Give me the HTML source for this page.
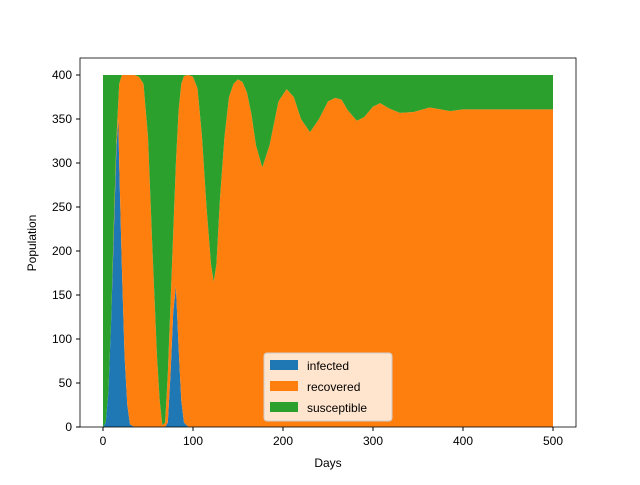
<!DOCTYPE html>
<html><head><meta charset="utf-8"><style>
body{margin:0;background:#fff;font-family:"Liberation Sans",sans-serif}
text{font-family:"Liberation Sans",sans-serif;font-size:12px;fill:#000}
</style></head><body>
<svg width="640" height="480">
<g id="plot"></g>
<rect x="80" y="58" width="496" height="369" fill="none" stroke="#000" stroke-width="0.8"/>
<g id="ticks"></g>
<text x="328" y="467" text-anchor="middle">Days</text>
<text transform="translate(36,243) rotate(-90)" text-anchor="middle">Population</text>
<g>
<rect x="264" y="353" width="128" height="68" rx="3" fill="#fff" fill-opacity="0.8" stroke="#ccc"/>
<g><rect x="270" y="360" width="28" height="10" fill="#1f77b4"/><text x="307" y="370">infected</text></g>
<g><rect x="270" y="381" width="28" height="10" fill="#ff7f0e"/><text x="307" y="391">recovered</text></g>
<g><rect x="270" y="402" width="28" height="10" fill="#2ca02c"/><text x="307" y="412">susceptible</text></g>
</g>
</svg>
<script>
const days=[0,3,6,9,12,15,17,18,21,24,27,30,35,40,45,50,55,60,63,66,69,72,75,78,81,84,87,90,95,100,105,110,115,120,123,126,130,135,140,145,150,155,160,165,170,177,185,195,204,212,220,230,240,250,258,265,272,282,290,300,308,318,330,345,363,375,386,400,450,500];
const infected=[0,5,40,120,220,320,350,300,180,80,25,3,0,0,0,0,0,0,0,0,0,5,60,130,160,90,30,5,0,0,0,0,0,0,0,0,0,0,0,0,0,0,0,0,0,0,0,0,0,0,0,0,0,0,0,0,0,0,0,0,0,0,0,0,0,0,0,0,0,0];
const infectedPlusRecovered=[0,5,40,120,230,330,370,390,400,400,400,400,400,398,390,330,200,80,30,2,5,60,140,220,300,360,390,399,400,398,385,330,250,185,165,185,260,330,375,390,395,392,380,355,320,295,320,370,384,375,350,335,350,370,374,372,360,348,352,364,368,362,357,358,363,361,359,361,361,361];
const recovered=infectedPlusRecovered.map((v,i)=>v-infected[i]);
const total=400;
const susceptible=recovered.map((v,i)=>total-v-infected[i]);
const xTicks=[0,100,200,300,400,500];
const yTicks=[0,50,100,150,200,250,300,350,400];
const X=d=>103+d*0.9, Y=v=>427-v*0.88;
const NS='http://www.w3.org/2000/svg';
const plot=document.getElementById('plot');
function band(lo,hi,color,name){
  let p='M'+days.map((d,i)=>X(d)+','+Y(hi[i])).join('L');
  for(let i=days.length-1;i>=0;i--)p+='L'+X(days[i])+','+Y(lo[i]);
  const el=document.createElementNS(NS,'path');
  el.setAttribute('d',p+'Z');el.setAttribute('fill',color);
  
  
  plot.appendChild(el);
}
const zero=days.map(()=>0);
const c1=infected, c2=infected.map((v,i)=>v+recovered[i]), c3=c2.map((v,i)=>v+susceptible[i]);
band(zero,c1,'#1f77b4','infected-area');
band(c1,c2,'#ff7f0e','recovered-area');
band(c2,c3,'#2ca02c','susceptible-area');
const tg=document.getElementById('ticks');
xTicks.forEach(t=>{
  const l=document.createElementNS(NS,'line');l.setAttribute('x1',X(t));l.setAttribute('x2',X(t));l.setAttribute('y1',427);l.setAttribute('y2',431);l.setAttribute('stroke','#000');tg.appendChild(l);
  const tx=document.createElementNS(NS,'text');tx.setAttribute('x',X(t));tx.setAttribute('y',445);tx.setAttribute('text-anchor','middle');tx.textContent=t;
  
  
  tg.appendChild(tx);
});
yTicks.forEach(t=>{
  const l=document.createElementNS(NS,'line');l.setAttribute('x1',76);l.setAttribute('x2',80);l.setAttribute('y1',Y(t));l.setAttribute('y2',Y(t));l.setAttribute('stroke','#000');tg.appendChild(l);
  const tx=document.createElementNS(NS,'text');tx.setAttribute('x',72);tx.setAttribute('y',Y(t)+4);tx.setAttribute('text-anchor','end');tx.textContent=t;
  
  
  tg.appendChild(tx);
});
</script>
</body></html>
